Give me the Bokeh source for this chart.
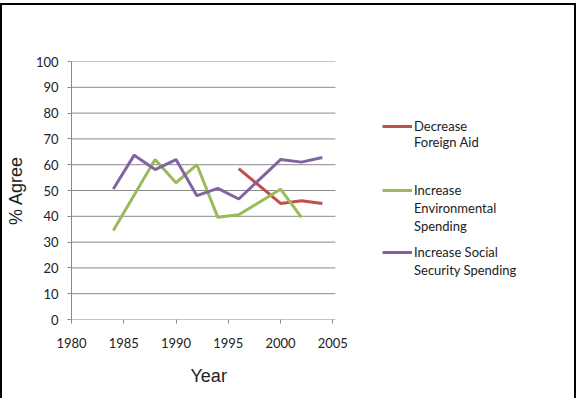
from bokeh.plotting import figure
from bokeh.models import Legend, LegendItem, Range1d, FixedTicker, Title
from bokeh.embed import file_html
from bokeh.resources import INLINE

# Survey results: share agreeing with each policy statement, by year
foreign_aid_years = [1996, 2000, 2002, 2004]
foreign_aid_pct = [58.5, 45.0, 46.0, 45.0]

environment_years = [1984, 1988, 1990, 1992, 1994, 1996, 2000, 2002]
environment_pct = [34.5, 62.0, 53.0, 60.0, 39.6, 40.6, 50.5, 39.6]

social_security_years = [1984, 1986, 1988, 1990, 1992, 1994, 1996, 2000, 2002, 2004]
social_security_pct = [50.6, 63.7, 58.1, 62.0, 48.0, 50.8, 46.7, 62.0, 61.0, 62.8]

# each legend entry is wrapped over several lines
series_labels = [["Decrease", "Foreign Aid"],
                 ["Increase", "Environmental", "Spending"],
                 ["Increase Social", "Security Spending"]]
series_colors = ["#C0504D", "#9BBB59", "#8064A2"]

x_ticks = [1980, 1985, 1990, 1995, 2000, 2005]
y_ticks = [0, 10, 20, 30, 40, 50, 60, 70, 80, 90, 100]

TICK_FONT = "Lato"
TITLE_FONT = "Liberation Sans"
GRID = "#8a8a8a"
TEXT = "#222222"

# canvas geometry (px)
W, H = 576, 395
LEFT, TOP, BOTTOM, RIGHT = 69, 56, 81, 2
AXIS_W = 261.3          # width of the 1980-2005 span
X0, X_SPAN = 1980, 25
GRID_END = 2005.25
px_per_year = AXIS_W / X_SPAN
x_end = X0 + (W - LEFT - RIGHT) / px_per_year

p = figure(width=W, height=H, output_backend="svg", toolbar_location=None,
           x_range=Range1d(X0, x_end), y_range=Range1d(0, 100),
           min_border_left=LEFT, min_border_right=RIGHT,
           min_border_top=TOP, min_border_bottom=BOTTOM,
           outline_line_color=None, background_fill_color="white",
           styles={"border-left": "2px solid #000", "border-top": "2px solid #000",
                   "border-right": "2px solid #000", "margin-top": "3px"})

# horizontal gridlines only across the data area (the 0 line doubles as the x axis line)
p.xgrid.grid_line_color = None
p.ygrid.grid_line_color = None
p.segment(x0=[X0] * len(y_ticks), x1=[GRID_END] * len(y_ticks), y0=y_ticks, y1=y_ticks,
          line_color=GRID, line_width=1)

p.xaxis.ticker = FixedTicker(ticks=x_ticks)
p.yaxis.ticker = FixedTicker(ticks=y_ticks)
for ax in (p.xaxis[0], p.yaxis[0]):
    ax.axis_line_color = GRID
    ax.major_tick_line_color = GRID
    ax.major_tick_in = 0
    ax.major_tick_out = 4
    ax.minor_tick_line_color = None
    ax.major_label_text_font = TICK_FONT
    ax.major_label_text_font_size = "13px"
    ax.major_label_text_color = TEXT
    ax.axis_label_text_font = TITLE_FONT
    ax.axis_label_text_font_size = "18px"
    ax.axis_label_text_font_style = "normal"
    ax.axis_label_text_color = TEXT
p.xaxis.axis_line_color = None

p.yaxis.axis_label = "% Agree"
p.xaxis.major_label_standoff = 14
p.yaxis.major_label_standoff = 9
p.yaxis.axis_label_standoff = 7

# x axis title, centred under the 1980-2005 span rather than the whole frame
p.add_layout(Title(text="Year", align="left", offset=119, standoff=27,
                   text_font=TITLE_FONT, text_font_size="18px",
                   text_font_style="normal", text_color=TEXT), "below")

renderers = [
    p.line(foreign_aid_years, foreign_aid_pct, line_color=series_colors[0], line_width=3),
    p.line(environment_years, environment_pct, line_color=series_colors[1], line_width=3),
    p.line(social_security_years, social_security_pct, line_color=series_colors[2], line_width=3),
]
# transparent stand-in so continuation lines get no swatch
blank = p.line(x=[X0], y=[0], line_alpha=0)

legend_left = 311
legend_bottoms = [169, 84, 40]
line_heights = [16, 18, 18]
for r, lines, bottom, lh in zip(renderers, series_labels, legend_bottoms, line_heights):
    items = [LegendItem(label=lines[0], renderers=[r])]
    items += [LegendItem(label=t, renderers=[blank]) for t in lines[1:]]
    leg = Legend(items=items, location=(legend_left, bottom), padding=0, margin=0, spacing=0,
                 glyph_width=30, glyph_height=lh, label_height=lh, label_standoff=2,
                 label_text_font=TICK_FONT, label_text_font_size="13px",
                 label_text_color=TEXT,
                 border_line_color=None, background_fill_alpha=0)
    p.add_layout(leg, "center")

open("out.html", "w").write(file_html(p, INLINE))
